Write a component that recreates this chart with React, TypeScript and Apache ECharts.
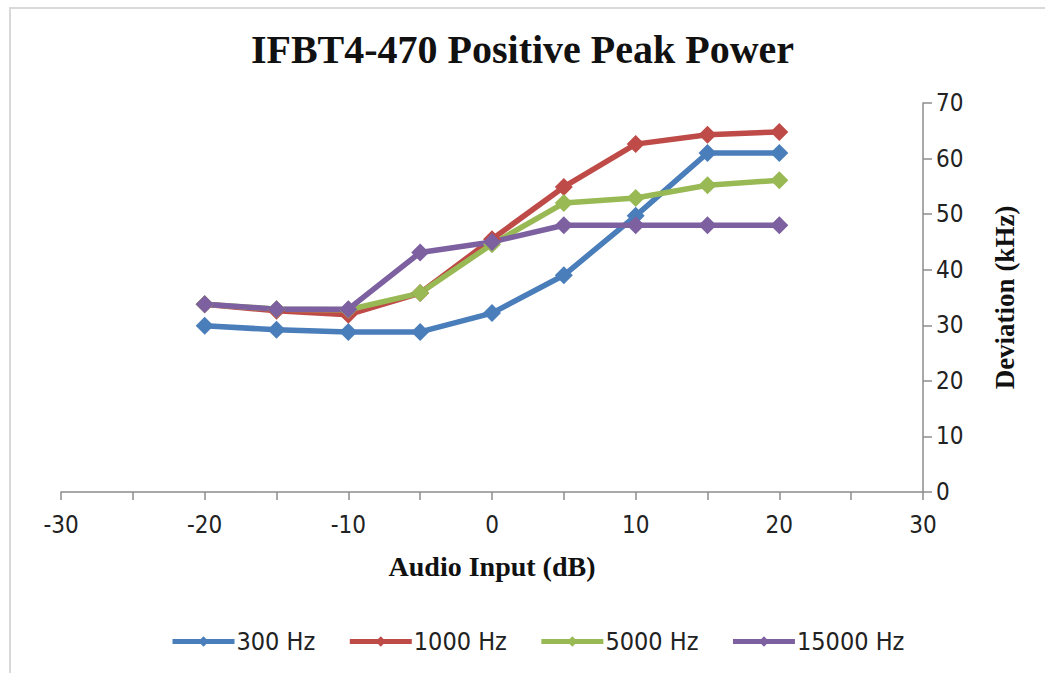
import React, { useEffect, useRef } from "react";
import * as echarts from "echarts";

const xValues = [-20, -15, -10, -5, 0, 5, 10, 15, 20];
const s300 = [29.9, 29.2, 28.8, 28.8, 32.2, 39.0, 49.7, 61.0, 61.0];
const s1000 = [33.8, 32.6, 31.9, 35.8, 45.5, 54.9, 62.6, 64.3, 64.8];
const s5000 = [33.8, 32.9, 32.8, 35.8, 44.6, 52.0, 52.9, 55.2, 56.1];
const s15000 = [33.8, 32.9, 32.9, 43.1, 45.0, 48.0, 48.0, 48.0, 48.0];
const seriesNames = ["300 Hz", "1000 Hz", "5000 Hz", "15000 Hz"];
const seriesColors = ["#4A7EBB", "#BE4B48", "#98B954", "#7D60A0"];
const title = "IFBT4-470 Positive Peak Power";
const xName = "Audio Input (dB)";
const yName = "Deviation (kHz)";

const labelFont = "'DejaVu Sans Condensed', 'Liberation Sans Narrow', sans-serif";
const serif = "'Liberation Serif', 'DejaVu Serif', serif";

export default function App() {
  const ref = useRef<HTMLDivElement>(null);
  useEffect(() => {
    document.body.style.margin = "0";
    const chart = echarts.init(ref.current!, undefined, { renderer: "svg" });
    const all = [s300, s1000, s5000, s15000];
    chart.setOption({
      animation: false,
      backgroundColor: "#fff",
      title: {
        text: title,
        left: "center",
        top: 24,
        textStyle: { fontFamily: serif, fontWeight: "bold", fontSize: 40, color: "#111" },
      },
      graphic: [
        {
          type: "rect",
          shape: { x: 10, y: 8, width: 1100, height: 700 },
          style: { fill: "none", stroke: "#d9d9d9", lineWidth: 2 },
          silent: true,
        },
      ],
      legend: {
        bottom: 19,
        left: 170,
        padding: 0,
        itemWidth: 62,
        itemHeight: 13,
        itemGap: 32,
        data: seriesNames,
        lineStyle: { width: 5 },
        textStyle: { fontFamily: labelFont, fontSize: 25, color: "#222", padding: [0, 0, 0, -3] },
      },
      grid: { left: 61, right: 122, top: 103, bottom: 181, containLabel: false },
      xAxis: {
        type: "value",
        min: -30,
        max: 30,
        interval: 10,
        name: xName,
        nameLocation: "middle",
        nameGap: 60,
        nameTextStyle: { fontFamily: serif, fontWeight: "bold", fontSize: 28, color: "#111" },
        axisLine: { show: true, onZero: false, lineStyle: { color: "#8c8c8c", width: 1.5 } },
        axisTick: { show: true, length: 8, lineStyle: { color: "#8c8c8c", width: 1.5 } },
        minorTick: { show: true, splitNumber: 2, length: 8, lineStyle: { color: "#8c8c8c", width: 1.5 } },
        splitLine: { show: false },
        axisLabel: { fontFamily: labelFont, fontSize: 24, color: "#222", margin: 21 },
      },
      yAxis: {
        type: "value",
        position: "right",
        min: 0,
        max: 70,
        interval: 10,
        name: yName,
        nameLocation: "middle",
        nameRotate: 90,
        nameGap: 68,
        nameTextStyle: { fontFamily: serif, fontWeight: "bold", fontSize: 27, color: "#111" },
        axisLine: { show: true, onZero: false, lineStyle: { color: "#8c8c8c", width: 1.5 } },
        axisTick: { show: true, length: 9, lineStyle: { color: "#8c8c8c", width: 1.5 } },
        splitLine: { show: false },
        axisLabel: { fontFamily: labelFont, fontSize: 24, color: "#222", margin: 13 },
      },
      series: seriesNames.map((name, i) => ({
        name,
        type: "line",
        data: xValues.map((x, j) => [x, all[i][j]]),
        symbol: "diamond",
        symbolSize: 18,
        color: seriesColors[i],
        lineStyle: { width: 5.5, color: seriesColors[i] },
        itemStyle: { color: seriesColors[i] },
      })),
    });
    return () => chart.dispose();
  }, []);
  return <div ref={ref} style={{ width: 1045, height: 673 }} />;
}
